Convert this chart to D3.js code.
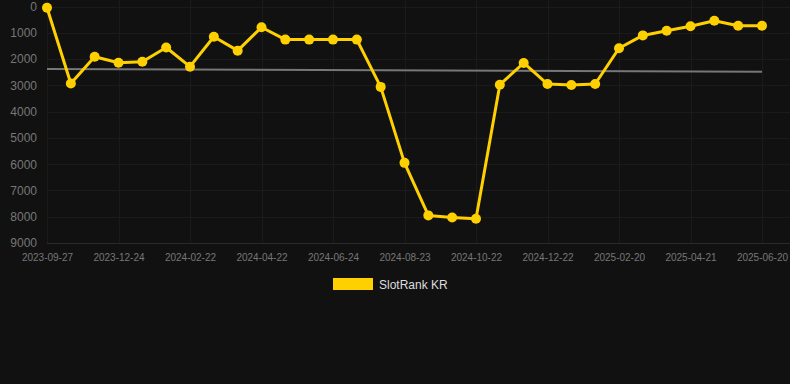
<!DOCTYPE html>
<html><head><meta charset="utf-8">
<script src="https://cdn.jsdelivr.net/npm/d3@7"></script>
<style>html,body{margin:0;padding:0;background:#111111;}svg{display:block;}</style>
</head><body>
<svg id="chart" width="790" height="384"></svg>
<script>
const categories = ["2023-09-27","2023-10-26","2023-11-25","2023-12-24","2024-01-13","2024-02-02","2024-02-22","2024-03-13","2024-04-02","2024-04-22","2024-05-13","2024-06-03","2024-06-24","2024-07-14","2024-08-03","2024-08-23","2024-09-12","2024-10-02","2024-10-22","2024-11-11","2024-12-01","2024-12-22","2025-01-11","2025-01-31","2025-02-20","2025-03-12","2025-04-01","2025-04-21","2025-05-11","2025-05-31","2025-06-20"];
const rankValues = [50,2930,1910,2140,2100,1560,2290,1150,1680,790,1260,1260,1260,1260,3060,5950,7950,8030,8080,2975,2150,2950,2990,2950,1590,1100,920,750,540,730,730];
const tickLabels = ["2023-09-27","2023-12-24","2024-02-22","2024-04-22","2024-06-24","2024-08-23","2024-10-22","2024-12-22","2025-02-20","2025-04-21","2025-06-20"];
const yTicks = [0,1000,2000,3000,4000,5000,6000,7000,8000,9000];
const trendValues = [2380,2480];
const seriesName = "SlotRank KR";

const svg = d3.select("#chart");
const mLeft = 47, mRight = 762, mTop = 6.5, mBottom = 243;
const x = d3.scalePoint().domain(categories).range([mLeft, mRight]);
const y = d3.scaleLinear().domain([0, 9000]).range([mTop, mBottom]);
const tickCats = categories.filter(c => tickLabels.includes(c));
const font = "Liberation Sans, Arial, sans-serif";

// grid
svg.append("g").selectAll("line").data(yTicks).join("line")
  .attr("x1", mLeft).attr("x2", 790)
  .attr("y1", d => Math.round(y(d)) + 0.5).attr("y2", d => Math.round(y(d)) + 0.5)
  .attr("stroke", d => d === 9000 ? "#2a2a2a" : "#1b1b1b").attr("stroke-width", 1);
svg.append("g").selectAll("line").data(tickCats).join("line")
  .attr("x1", d => Math.round(x(d)) + 0.5).attr("x2", d => Math.round(x(d)) + 0.5)
  .attr("y1", 0).attr("y2", mBottom)
  .attr("stroke", "#1b1b1b").attr("stroke-width", 1);

// y axis labels
const yAxis = d3.axisLeft(y).tickValues(yTicks).tickSize(0).tickPadding(0).tickFormat(d3.format("d"));
const ya = svg.append("g").attr("transform", "translate(37,0)").call(yAxis);
ya.select(".domain").remove();
ya.selectAll("text").attr("fill", "#777").attr("font-family", font).attr("font-size", 12);

// x axis labels
const xAxis = d3.axisBottom(x).tickValues(tickCats).tickSize(0).tickPadding(0);
const xa = svg.append("g").attr("transform", "translate(0,254)").call(xAxis);
xa.select(".domain").remove();
xa.selectAll("text").attr("fill", "#777").attr("font-family", font).attr("font-size", 10);

// trend line
svg.append("line")
  .attr("x1", x(categories[0])).attr("x2", x(categories[categories.length - 1]))
  .attr("y1", y(trendValues[0])).attr("y2", y(trendValues[1]))
  .attr("stroke", "#777").attr("stroke-width", 2);

// series
const color = "#ffd000";
svg.append("path").datum(categories)
  .attr("d", d3.line().x(c => x(c)).y((c, i) => y(rankValues[i])))
  .attr("fill", "none").attr("stroke", color).attr("stroke-width", 3).attr("stroke-linejoin", "round");
svg.append("g").selectAll("circle").data(categories).join("circle")
  .attr("cx", c => x(c)).attr("cy", (c, i) => y(rankValues[i])).attr("r", 5).attr("fill", color);

// legend
svg.append("rect").attr("x", 333).attr("y", 278).attr("width", 40).attr("height", 12).attr("fill", color);
svg.append("text").attr("x", 379).attr("y", 289).text(seriesName)
  .attr("fill", "#ddd").attr("font-family", font).attr("font-size", 12);
</script>
</body></html>
